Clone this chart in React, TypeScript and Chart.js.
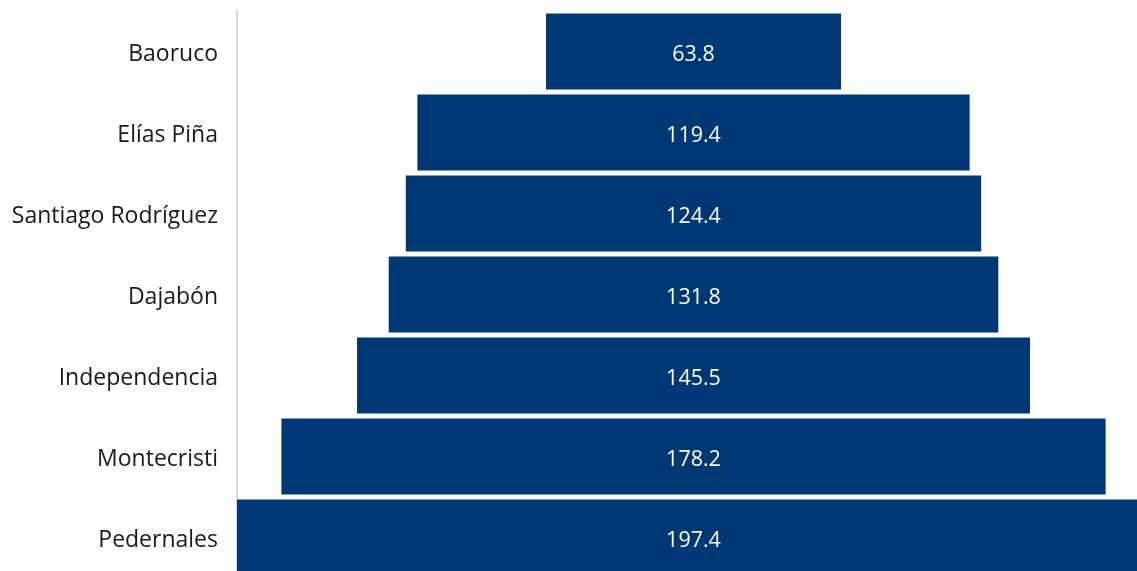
import React, { useEffect, useRef } from "react";
import { Chart, registerables } from "chart.js";

Chart.register(...registerables);

const provinces = [
  "Baoruco",
  "Elías Piña",
  "Santiago Rodríguez",
  "Dajabón",
  "Independencia",
  "Montecristi",
  "Pedernales",
];
const values = [63.8, 119.4, 124.4, 131.8, 145.5, 178.2, 197.4];

const BAR_COLOR = "#003876";
const FONT = "'Segoe UI', 'Open Sans', 'Noto Sans', sans-serif";

export default function App() {
  const ref = useRef<HTMLCanvasElement | null>(null);

  useEffect(() => {
    if (!ref.current) return;
    const maxV = Math.max(...values);
    const ranges = values.map((v) => [(maxV - v) / 2, (maxV + v) / 2]);

    const labelPlugin = {
      id: "funnelLabels",
      afterDatasetsDraw(chart: any) {
        const ctx = chart.ctx;
        const meta = chart.getDatasetMeta(0);
        ctx.save();
        ctx.fillStyle = "#ffffff";
        ctx.font = `21.5px ${FONT}`;
        ctx.textAlign = "center";
        ctx.textBaseline = "middle";
        meta.data.forEach((el: any, i: number) => {
          const cx = (el.x + el.base) / 2;
          ctx.fillText(values[i].toFixed(1), cx, el.y + 3);
        });
        ctx.restore();
      },
    };

    const chart = new Chart(ref.current, {
      type: "bar",
      data: {
        labels: provinces,
        datasets: [
          {
            data: ranges as any,
            backgroundColor: BAR_COLOR,
            borderWidth: 0,
            barPercentage: 1,
            categoryPercentage: 0.94,
          },
        ],
      },
      options: {
        indexAxis: "y",
        animation: false,
        responsive: false,
        layout: { padding: { top: 11, left: 0, right: 0, bottom: 0 } },
        plugins: {
          legend: { display: false },
          tooltip: { enabled: false },
        },
        scales: {
          x: {
            display: false,
            min: 0,
            max: maxV,
          },
          y: {
            afterFit: (s: any) => {
              s.width = 237;
              s.paddingTop = 0;
              s.paddingBottom = 0;
            },
            grid: { display: false, drawTicks: false },
            border: { display: true, color: "#d9d9d9", width: 2 },
            ticks: {
              padding: 19,
              labelOffset: 2.5,
              color: "#1a1a1a",
              font: { family: FONT, size: 23 },
            },
          },
        },
      },
      plugins: [labelPlugin],
    });
    return () => chart.destroy();
  }, []);

  return (
    <div
      style={{
        position: "fixed",
        left: 0,
        top: 0,
        width: 1137,
        height: 571,
        overflow: "hidden",
        background: "#ffffff",
      }}
    >
      <canvas ref={ref} width={1150} height={578} style={{ display: "block" }} />
    </div>
  );
}
